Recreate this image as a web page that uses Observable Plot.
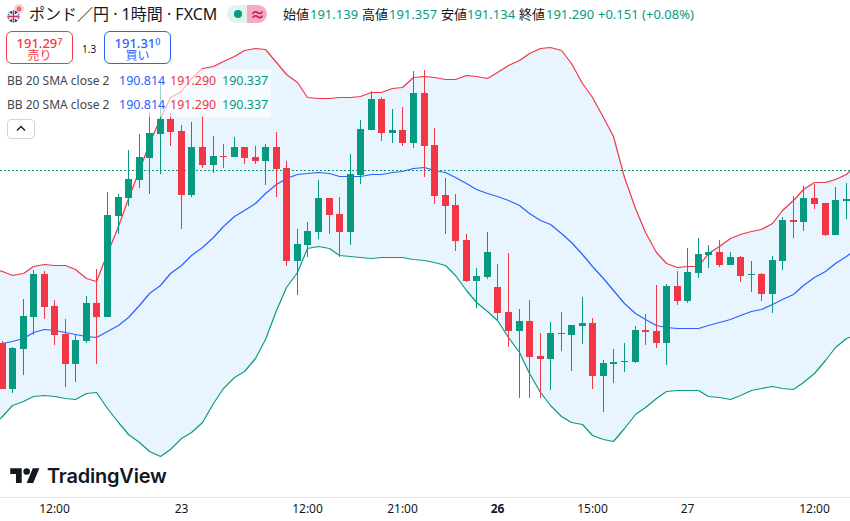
<!DOCTYPE html>
<html lang="ja">
<head>
<meta charset="utf-8">
<script src="https://cdn.jsdelivr.net/npm/d3@7"></script>
<script src="https://cdn.jsdelivr.net/npm/@observablehq/plot@0.6"></script>
<style>
html,body{margin:0;padding:0;background:#fff;width:850px;height:521px;overflow:hidden}
body{position:relative;font-family:"Noto Sans","Noto Sans CJK JP",sans-serif;color:#131722}
#chart{position:absolute;left:0;top:0}
.t{position:absolute;white-space:nowrap;line-height:1}
.g{color:#089981}
.box{position:absolute;box-sizing:border-box;background:#fff;border-radius:6px;border:1px solid;text-align:center;height:33px;width:67px;top:31px}
.box div{position:absolute;left:0;right:0;white-space:nowrap;line-height:1}
.box sup{font-size:9px;line-height:1;vertical-align:baseline;position:relative;top:-3px}
.row{position:absolute;left:0;width:271px;height:24px;background:rgba(255,255,255,.62)}
</style>
</head>
<body>
<div id="chart"></div>
<script>
const opens = [190.304,190.042,190.270,190.452,190.697,190.515,190.355,190.184,190.315,190.532,190.452,191.028,191.130,191.233,191.358,191.495,191.581,191.512,191.148,191.421,191.319,191.370,191.364,191.421,191.364,191.341,191.421,191.301,190.771,190.863,190.937,191.130,191.039,190.937,191.262,191.518,191.695,191.501,191.518,191.444,191.729,191.433,191.148,191.091,190.891,190.657,190.680,190.623,190.481,190.372,190.429,190.230,190.213,190.361,190.350,190.401,190.418,190.116,190.184,190.196,190.196,190.378,190.372,190.304,190.629,190.543,190.703,190.806,190.823,190.749,190.794,190.691,190.697,190.583,190.771,191.005,190.994,191.130,191.102,190.920,191.113];
const closes = [190.042,190.275,190.458,190.697,190.509,190.350,190.184,190.321,190.532,190.452,191.034,191.136,191.239,191.364,191.501,191.581,191.507,191.148,191.421,191.319,191.370,191.364,191.421,191.358,191.341,191.421,191.296,190.771,190.868,190.942,191.130,191.034,190.937,191.267,191.524,191.695,191.501,191.518,191.444,191.729,191.427,191.142,191.085,190.885,190.657,190.686,190.823,190.475,190.372,190.429,190.224,190.213,190.361,190.355,190.407,190.418,190.116,190.190,190.196,190.201,190.378,190.367,190.304,190.629,190.543,190.709,190.811,190.823,190.749,190.794,190.686,190.697,190.583,190.777,191.005,190.994,191.130,191.096,190.920,191.119,191.125];
const highs = [190.315,190.281,190.555,190.720,190.714,190.549,190.441,190.355,190.572,190.726,191.165,191.153,191.404,191.495,191.621,191.803,191.615,191.547,191.564,191.598,191.484,191.438,191.478,191.421,191.427,191.438,191.507,191.341,190.954,190.994,191.233,191.130,191.136,191.381,191.575,191.740,191.706,191.638,191.649,191.854,191.860,191.529,191.244,191.153,190.925,190.731,190.937,190.754,190.817,190.498,190.549,190.361,190.424,190.481,190.407,190.566,190.446,190.207,190.270,190.304,190.401,190.469,190.635,190.640,190.714,190.845,190.902,190.863,190.891,190.823,190.800,190.771,190.703,190.800,191.022,191.142,191.199,191.210,191.102,191.193,191.216];
const lows = [190.042,190.019,190.122,190.350,190.441,190.293,190.053,190.082,190.304,190.184,190.452,190.925,191.085,191.187,191.153,191.267,191.427,190.954,191.136,191.301,191.273,191.301,191.364,191.324,191.324,191.205,191.136,190.743,190.578,190.794,190.897,190.925,190.794,190.863,191.210,191.518,191.455,191.444,191.427,191.415,191.250,191.096,190.925,190.828,190.652,190.503,190.669,190.429,190.281,189.990,189.990,189.990,190.036,190.258,190.144,190.298,190.042,189.911,190.076,190.139,190.190,190.293,190.275,190.179,190.521,190.532,190.674,190.731,190.737,190.749,190.652,190.595,190.543,190.475,190.720,190.902,190.942,191.068,190.914,190.920,191.011];
const bandUpper = [190.731,190.714,190.691,190.703,190.743,190.754,190.749,190.749,190.726,190.674,190.657,190.817,190.971,191.130,191.290,191.444,191.586,191.706,191.740,191.814,191.871,191.883,191.911,191.940,191.974,191.985,191.980,191.906,191.837,191.792,191.706,191.700,191.700,191.706,191.706,191.712,191.735,191.735,191.757,191.763,191.820,191.826,191.820,191.809,191.809,191.832,191.826,191.814,191.849,191.889,191.917,191.957,191.985,191.991,191.974,191.900,191.786,191.706,191.592,191.484,191.250,191.073,190.937,190.823,190.760,190.737,190.743,190.743,190.817,190.857,190.902,190.925,190.942,190.954,190.988,191.062,191.119,191.182,191.222,191.222,191.239,191.267,191.324];
const bandMiddle = [190.293,190.304,190.315,190.332,190.367,190.384,190.378,190.367,190.355,190.344,190.338,190.372,190.407,190.452,190.521,190.589,190.635,190.703,190.749,190.806,190.851,190.908,190.971,191.028,191.062,191.102,191.159,191.210,191.244,191.267,191.273,191.279,191.273,191.256,191.256,191.256,191.267,191.267,191.279,191.284,191.301,191.307,191.290,191.279,191.250,191.216,191.182,191.159,191.142,191.119,191.091,191.045,191.005,190.982,190.931,190.880,190.811,190.743,190.674,190.606,190.532,190.475,190.441,190.407,190.395,190.389,190.389,190.389,190.407,190.424,190.441,190.464,190.486,190.498,190.526,190.555,190.583,190.635,190.680,190.714,190.760,190.800,190.845];
const bandLower = [189.825,189.888,189.951,189.973,190.002,190.008,190.002,189.990,189.985,190.019,190.025,189.933,189.854,189.785,189.740,189.688,189.660,189.700,189.762,189.797,189.854,189.962,190.047,190.110,190.144,190.218,190.327,190.492,190.623,190.709,190.845,190.857,190.845,190.806,190.800,190.794,190.788,190.794,190.794,190.794,190.783,190.777,190.766,190.749,190.691,190.606,190.538,190.486,190.435,190.338,190.253,190.133,190.025,189.951,189.888,189.854,189.842,189.780,189.757,189.745,189.819,189.899,189.939,189.990,190.030,190.036,190.036,190.036,190.002,189.996,189.985,190.008,190.036,190.047,190.059,190.047,190.042,190.082,190.133,190.207,190.281,190.332,190.355];
const lastPrice = 191.29;
const timeTicks = [5,17,29,38,47,56,65,77];
const timeLabels = ["12:00","23","12:00","21:00","26","15:00","27","12:00"];

const bars = opens.map((o,i)=>({i,o,c:closes[i],h:highs[i],l:lows[i]}));
const band = bandUpper.map((u,k)=>({i:k-1,u,m:bandMiddle[k],d:bandLower[k]}));
const UP="#089981",DOWN="#f23645";
const col=d=>d.c>=d.o?UP:DOWN;
const labelOf=t=>timeLabels[timeTicks.indexOf(t)];
const FONT='"Noto Sans","Noto Sans CJK JP",sans-serif';

const chart = Plot.plot({
  width:850,height:521,
  marginTop:0,marginBottom:24,marginLeft:0,marginRight:0,
  style:{fontFamily:FONT,fontSize:"12px",color:"#131722",background:"transparent"},
  x:{domain:[-0.1422,80.4147],round:true},
  y:{domain:[189.4261,192.259],round:true},
  marks:[
    Plot.areaY(band,{x:"i",y1:"u",y2:"d",fill:"#2196f3",fillOpacity:0.1,clip:true}),
    Plot.ruleY([lastPrice],{stroke:UP,strokeDasharray:"2 2",strokeWidth:1}),
    Plot.lineY(band,{x:"i",y:"u",stroke:DOWN,strokeWidth:1.2,clip:true}),
    Plot.lineY(band,{x:"i",y:"m",stroke:"#2962ff",strokeWidth:1.2,clip:true}),
    Plot.lineY(band,{x:"i",y:"d",stroke:UP,strokeWidth:1.2,clip:true}),
    Plot.ruleX(bars,{x:"i",y1:"l",y2:"h",stroke:col,strokeWidth:1}),
    Plot.ruleX(bars,{x:"i",y1:"o",y2:"c",stroke:col,strokeWidth:7}),
    Plot.frame({anchor:"bottom",stroke:"#e0e3eb"}),
    Plot.axisX(timeTicks.filter(t=>t!==47),{anchor:"bottom",tickSize:0,tickPadding:7,label:null,tickFormat:labelOf,fontSize:12,fill:"#131722"}),
    Plot.axisX([47],{anchor:"bottom",tickSize:0,tickPadding:7,label:null,tickFormat:labelOf,fontSize:12,fontWeight:"bold",fill:"#131722"})
  ]
});
document.getElementById("chart").appendChild(chart);

const html = `
<svg style="position:absolute;left:6px;top:4px" width="20" height="20" viewBox="0 0 20 20">
  <circle cx="13" cy="5" r="5" fill="#fbd5d5"/><circle cx="13" cy="5" r="2.5" fill="#f26a6a"/>
  <circle cx="7.5" cy="12.5" r="6" fill="#2b3f8f"/>
  <path d="M2.5 9 L12.5 16 M12.5 9 L2.5 16" stroke="#fff" stroke-width="1.6"/>
  <path d="M7.5 6.5 V18.5 M1.5 12.5 H13.5" stroke="#fff" stroke-width="2.6"/>
  <path d="M7.5 6.5 V18.5 M1.5 12.5 H13.5" stroke="#d6304a" stroke-width="1.4"/>
</svg>
<div class="t" style="left:29px;top:4px;font-size:16px;line-height:20px">ポンド／円 · 1時間 · FXCM</div>
<div style="position:absolute;left:227px;top:5px;width:20px;height:18px;background:#dff3ef;border-radius:9px 0 0 9px"></div>
<div style="position:absolute;left:247px;top:5px;width:20px;height:18px;background:#f5a9c2;border-radius:0 9px 9px 0"></div>
<div style="position:absolute;left:234px;top:10px;width:8px;height:8px;border-radius:50%;background:#089981"></div>
<div class="t" style="left:250px;top:4px;width:14px;text-align:center;font-size:15px;line-height:20px;font-weight:bold;color:#c2185b">≈</div>
<div class="t" style="left:283px;top:6px;font-size:13px;line-height:16px">始値</div><div class="t g" style="left:310px;top:6px;font-size:13px;line-height:16px">191.139</div>
<div class="t" style="left:362px;top:6px;font-size:13px;line-height:16px">高値</div><div class="t g" style="left:389px;top:6px;font-size:13px;line-height:16px">191.357</div>
<div class="t" style="left:441px;top:6px;font-size:13px;line-height:16px">安値</div><div class="t g" style="left:467px;top:6px;font-size:13px;line-height:16px">191.134</div>
<div class="t" style="left:519px;top:6px;font-size:13px;line-height:16px">終値</div><div class="t g" style="left:546px;top:6px;font-size:13px;line-height:16px">191.290</div>
<div class="t g" style="left:598px;top:6px;font-size:13px;line-height:16px">+0.151 (+0.08%)</div>

<div class="box" style="left:6px;border-color:#f23645;color:#f23645"><div style="top:5px;font-size:13px;font-weight:500">191.29<sup>7</sup></div><div style="top:18px;font-size:12px">売り</div></div>
<div class="t" style="left:82px;top:43px;font-size:10px;line-height:12px">1.3</div>
<div class="box" style="left:104px;border-color:#2962ff;color:#2962ff"><div style="top:5px;font-size:13px;font-weight:500">191.31<sup>0</sup></div><div style="top:18px;font-size:12px">買い</div></div>

<div class="row" style="top:69px"></div>
<div class="row" style="top:93px"></div>
<div class="t" style="left:7px;top:73px;font-size:12px;line-height:16px;color:#434651">BB 20 SMA close 2</div>
<div class="t" style="left:119px;top:73px;font-size:12.5px;line-height:16px;color:#2962ff">190.814</div>
<div class="t" style="left:170px;top:73px;font-size:12.5px;line-height:16px;color:#f23645">191.290</div>
<div class="t" style="left:222px;top:73px;font-size:12.5px;line-height:16px;color:#089981">190.337</div>
<div class="t" style="left:7px;top:97px;font-size:12px;line-height:16px;color:#434651">BB 20 SMA close 2</div>
<div class="t" style="left:119px;top:97px;font-size:12.5px;line-height:16px;color:#2962ff">190.814</div>
<div class="t" style="left:170px;top:97px;font-size:12.5px;line-height:16px;color:#f23645">191.290</div>
<div class="t" style="left:222px;top:97px;font-size:12.5px;line-height:16px;color:#089981">190.337</div>

<div style="position:absolute;left:7px;top:119px;width:28px;height:20px;box-sizing:border-box;border:1px solid #d1d4dc;border-radius:4px;background:#fff"></div>
<svg style="position:absolute;left:16px;top:125px" width="10" height="7" viewBox="0 0 10 7"><path d="M1 5.5 L5 1.5 L9 5.5" fill="none" stroke="#131722" stroke-width="1.4"/></svg>

<svg style="position:absolute;left:10px;top:465px" width="30" height="23" viewBox="0 0 36 28"><path d="M14 22H7V11H0V4h14v18zM28 22h-8l7.5-18h8L28 22z" fill="#131722"/><circle cx="20" cy="8" r="4" fill="#131722"/></svg>
<div class="t" style="left:47px;top:463px;font-size:20px;line-height:26px;font-weight:600;font-family:Inter,'Noto Sans',sans-serif;color:#131722;letter-spacing:-.2px">TradingView</div>
`;
document.body.insertAdjacentHTML("beforeend",html);
</script>
</body>
</html>
